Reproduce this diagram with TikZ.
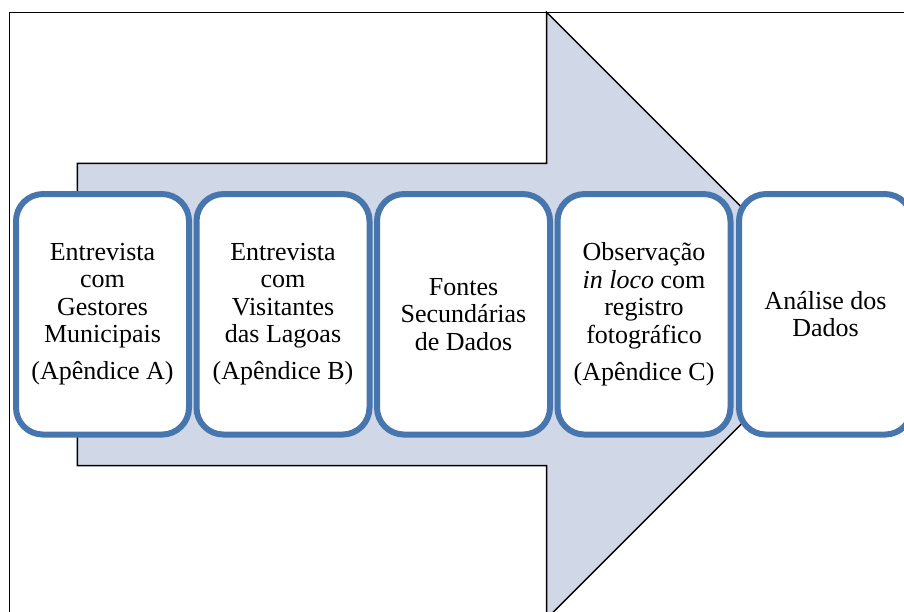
\documentclass[tikz,border=0pt]{standalone}
\usepackage{fontspec}
\setmainfont{Liberation Serif}
\definecolor{boxblue}{RGB}{71,118,174}
\definecolor{arrowfill}{RGB}{208,216,232}
\begin{document}
\begin{tikzpicture}[x=1pt,y=-1pt,
  stagebox/.style={draw=boxblue, line width=6pt, fill=white, rounded corners=27pt,
    minimum width=173pt, minimum height=240.5pt, align=center, inner sep=0pt,
    font=\fontsize{26}{27.5}\selectfont},
  outline/.style={draw=black, line width=1.5pt}]
\useasboundingbox (0,0) rectangle (904,611);
\clip (0,0) rectangle (904,611);
% outer frame
\draw[outline] (9.5,12.3) rectangle (960,660);
% big arrow
\draw[outline, fill=arrowfill, line join=miter]
  (77.3,163.3) -- (546.7,163.3) -- (546.7,12.3) -- (849.8,315.5)
  -- (546.7,618.7) -- (546.7,465.7) -- (77.3,465.7) -- cycle;
% stages
\node[stagebox] (b1) at (102.5,314.3) {Entrevista\\com\\Gestores\\Municipais\\[9.5pt](Apêndice A)};
\node[stagebox] (b2) at (283,314.3) {Entrevista\\com\\Visitantes\\das Lagoas\\[9.5pt](Apêndice B)};
\node[stagebox] (b3) at (463.5,314.3) {Fontes\\Secundárias\\de Dados};
\node[stagebox] (b4) at (644,314.3) {Observação\\\textit{in loco} com\\registro\\fotográfico\\[9.5pt](Apêndice C)};
\node[stagebox] (b5) at (825.5,314.3) {Análise dos\\Dados};
\end{tikzpicture}
\end{document}
